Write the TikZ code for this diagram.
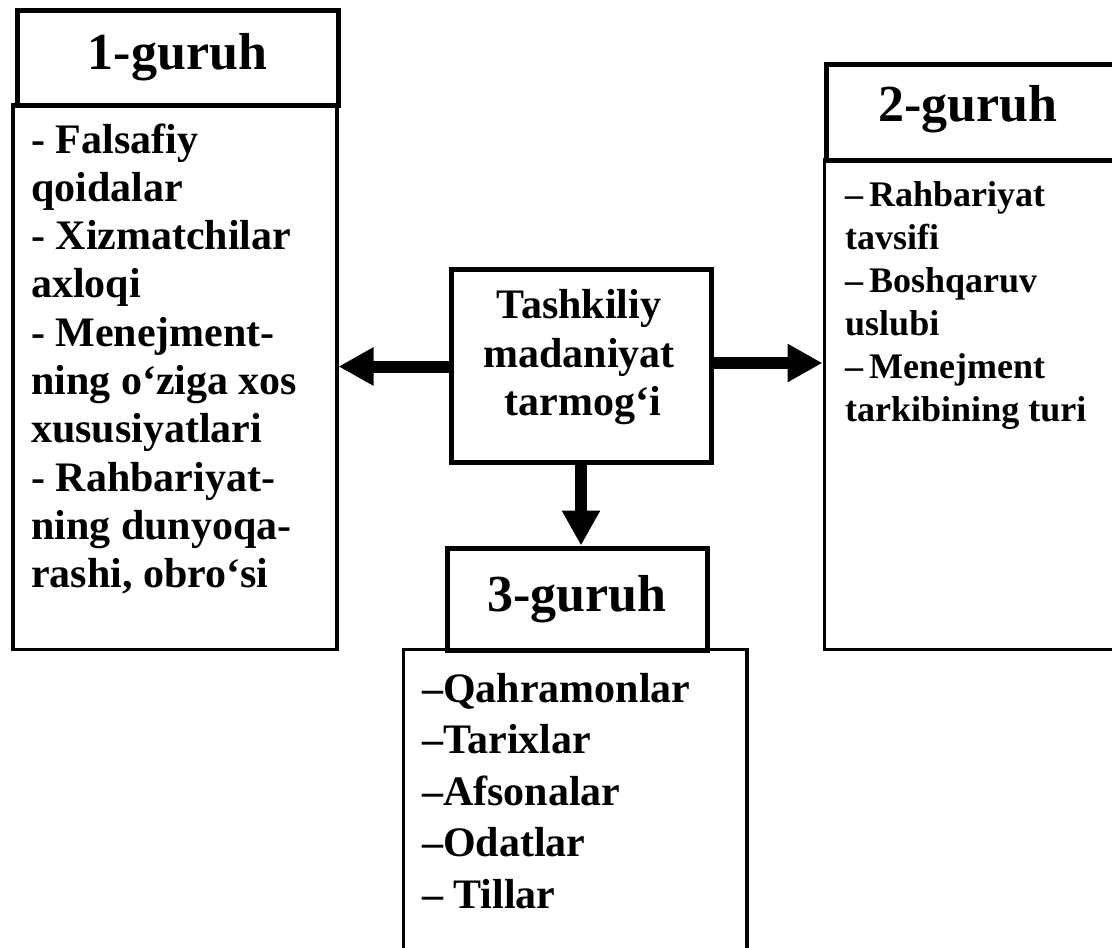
\documentclass[tikz,border=0pt]{standalone}
\usepackage{fontspec}
\setmainfont{Liberation Serif}
\usetikzlibrary{arrows.meta}
\begin{document}
\begin{tikzpicture}[x=1pt,y=-1pt,
  titlebox/.style={draw, line width=5pt, rectangle, inner sep=0pt, anchor=north west,
    font=\fontsize{52}{56}\selectfont\bfseries},
  bodybox/.style={draw, line width=3.5pt, rectangle, inner sep=0pt, anchor=north west},
  corebox/.style={draw, line width=5pt, rectangle, inner sep=0pt, anchor=north west},
  itemA/.style={anchor=base west, inner sep=0pt, font=\fontsize{42}{48}\selectfont\bfseries},
  itemB/.style={anchor=base west, inner sep=0pt, font=\fontsize{36}{43}\selectfont\bfseries},
  bigarrow/.style={line width=12pt, -{Triangle[length=35pt,width=36pt]}}]

\useasboundingbox (0,0) rectangle (1112,948);
\fill[white] (0,0) rectangle (1112,948);

% group 1
\node[bodybox, minimum width=324pt, minimum height=545pt] (g1body) at (11,102.5) {};
\node[titlebox, minimum width=321pt, minimum height=95pt] (g1title) at (14.5,7.5) {1-guruh};
\foreach \t [count=\i] in {- Falsafiy, qoidalar, - Xizmatchilar, axloqi, - Menejment-,
    ning o‘ziga xos, xususiyatlari, - Rahbariyat-, ning dunyoqa-, {rashi, obro‘si}}
  \node[itemA] (g1item\i) at (31,{153+48.3*(\i-1)}) {\t};

% group 2 (runs past the right edge)
\node[bodybox, minimum width=310pt, minimum height=490pt] (g2body) at (822.5,157.5) {};
\node[titlebox, minimum width=310pt, minimum height=96pt] (g2title) at (823.5,61.5) {};
\node[inner sep=0pt, font=\fontsize{52}{56}\selectfont\bfseries] (g2label) at (968,109.5) {2-guruh};
\foreach \t [count=\i] in {–\kern6pt Rahbariyat, tavsifi, –\kern6pt Boshqaruv, uslubi,
    –\kern6pt Menejment, tarkibining turi}
  \node[itemB] (g2item\i) at (845,{206+43*(\i-1)}) {\t};

% central node
\node[corebox, minimum width=260pt, minimum height=192.5pt] (core) at (448.5,267) {};
\node[anchor=north, inner sep=0pt, align=center,
      font=\fontsize{42}{48.5}\selectfont\bfseries] (coretext) at (579,289.6)
  {Tashkiliy\\madaniyat\\\hspace*{8pt}tarmog‘i};

% group 3 (runs past the bottom edge)
\node[bodybox, minimum width=343.5pt, minimum height=320pt] (g3body) at (401.5,647.5) {};
\node[titlebox, minimum width=260pt, minimum height=102pt] (g3title) at (444.5,545.5) {3-guruh};
\foreach \t [count=\i] in {–Qahramonlar, –Tarixlar, –Afsonalar, –Odatlar, –\ Tillar}
  \node[itemA] (g3item\i) at (422,{702+51.5*(\i-1)}) {\t};

% connectors
\coordinate (lstart) at ([yshift=-0.75pt]core.west);
\coordinate (rstart) at ([yshift=2.75pt]core.east);
\draw[bigarrow] (lstart) -- (g1body.east |- lstart);
\draw[bigarrow] (rstart) -- (g2body.west |- rstart);
\draw[bigarrow] (core.south) -- (g3title.north -| core.south);
\end{tikzpicture}
\end{document}
